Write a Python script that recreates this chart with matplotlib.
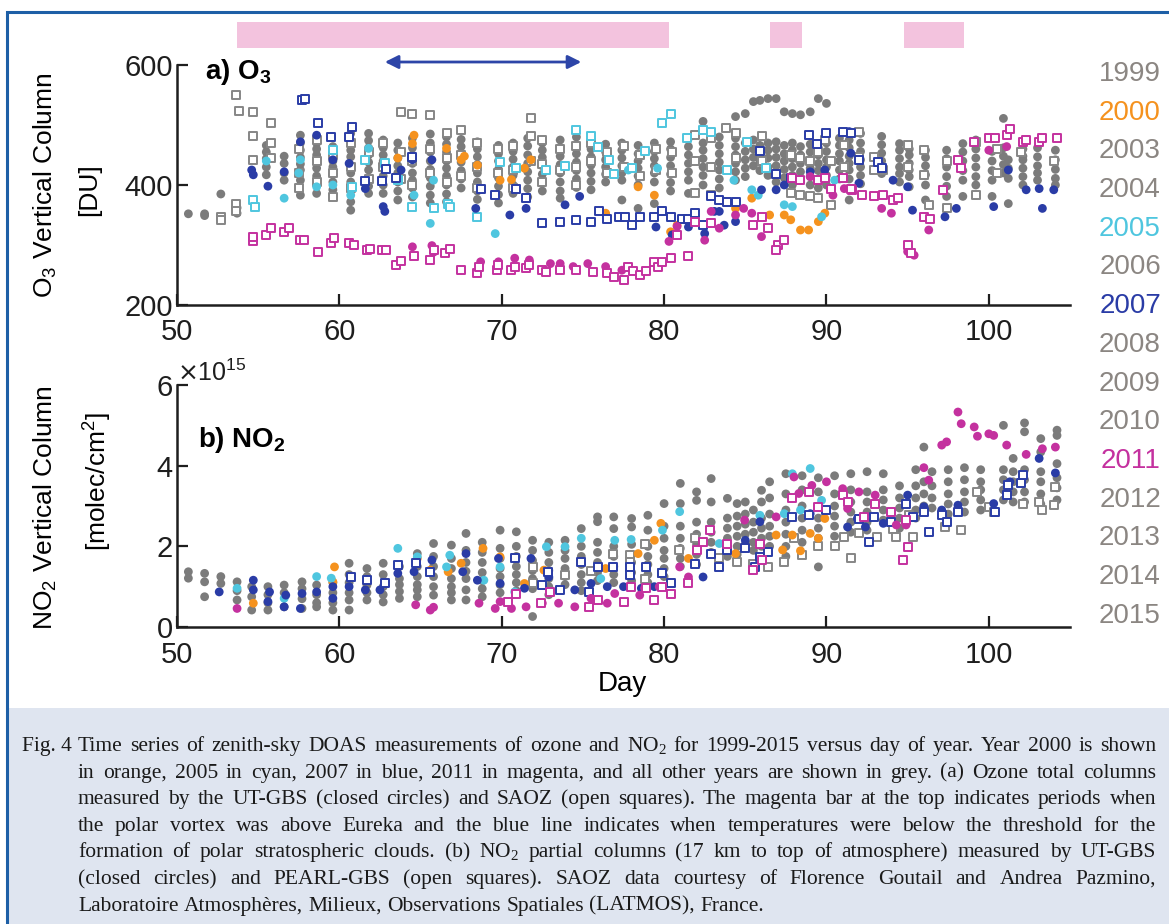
import matplotlib
matplotlib.use('Agg')
import matplotlib.pyplot as plt
from matplotlib.patches import Rectangle
import numpy as np

plt.rcParams['font.family'] = ['Liberation Sans', 'DejaVu Sans']

W, H = 1169, 924

YEARS = ['1999', '2000', '2003', '2004', '2005', '2006', '2007', '2008',
         '2009', '2010', '2011', '2012', '2013', '2014', '2015']

GREY = '#7b7b7b'
GREY_BOX = '#868686'
ORANGE = '#f5921e'
CYAN = '#4fc6df'
BLUE = '#2a3ca6'
MAGENTA = '#c4319f'
LEGEND_GREY = '#8b8682'
HIGHLIGHT = {'2000': ORANGE, '2005': CYAN, '2007': BLUE, '2011': MAGENTA}

# polar vortex above Eureka (day ranges) and PSC temperature window
VORTEX_DAYS = [(53.7, 80.3), (86.5, 88.5), (94.8, 98.5)]
PSC_DAYS = (62.8, 74.9)

# ---- ozone [DU], other years: (day, [values]) ----
O3_GREY_UTGBS = [
    (50.7, [352]), (51.7, [352, 349]), (52.7, [385]), (53.7, [353, 362]),
    (55.5, [466, 455, 444, 430, 417]), (56.6, [448, 436, 420, 408]),
    (57.6, [483, 470, 458, 446, 435, 425, 408, 383]),
    (58.6, [470, 460, 450, 440, 428, 415, 400, 386]),
    (59.6, [464, 452, 440, 430, 418, 405, 392]),
    (60.7, [486, 470, 458, 447, 433, 420, 405, 390, 372, 358]),
    (61.8, [486, 474, 462, 450, 438, 425, 410, 398, 386]),
    (62.7, [475, 462, 450, 440, 428, 415, 400, 386]),
    (63.6, [470, 458, 445, 432, 420, 405, 390, 375]),
    (64.5, [478, 462, 450, 436, 420, 408, 395, 380]),
    (65.6, [485, 470, 455, 440, 426, 412, 398, 383, 370]),
    (66.6, [480, 468, 455, 440, 428, 415, 400, 385, 372]),
    (67.5, [476, 464, 452, 438, 424, 410, 395]),
    (68.5, [472, 460, 447, 434, 420, 405, 390, 376]),
    (69.8, [466, 452, 440, 426, 412, 398, 384, 370]),
    (70.7, [470, 456, 443, 430, 416, 400, 386]),
    (71.6, [478, 465, 450, 436, 422, 408, 394, 380]),
    (72.5, [470, 458, 446, 432, 418, 404, 390]),
    (73.6, [475, 462, 448, 434, 420, 405, 390, 378]),
    (74.6, [480, 466, 452, 438, 424, 410, 396]),
    (75.5, [472, 460, 447, 433, 420, 406, 392]),
    (76.4, [468, 455, 442, 430, 418, 405]),
    (77.4, [470, 458, 445, 432, 420, 408, 375]),
    (78.4, [466, 452, 440, 428, 415, 400, 361]),
    (79.4, [470, 456, 444, 432, 420, 405, 369]),
    (80.4, [472, 460, 446, 432, 418, 404, 390]),
    (81.5, [478, 464, 450, 436, 422, 408, 386]),
    (82.4, [506, 470, 458, 444, 430, 416, 400]),
    (83.4, [480, 466, 452, 438, 425, 410, 395]),
    (84.4, [514, 478, 464, 450, 436, 422, 408]),
    (85.0, [519, 470, 456, 442, 428, 414]),
    (85.5, [539, 475, 460, 446, 432]),
    (85.9, [541, 466, 452, 438, 424]),
    (86.4, [544, 470, 458, 445, 430, 416]),
    (86.9, [544, 472, 460, 446, 432, 418, 405]),
    (87.4, [522, 466, 452, 440, 426, 412]),
    (87.9, [519, 470, 458, 444, 430, 416, 400]),
    (88.4, [517, 464, 450, 436, 422, 408]),
    (89.0, [522, 468, 455, 442, 428, 414, 400]),
    (89.5, [544, 462, 450, 436, 424, 410, 395]),
    (90.0, [536, 470, 456, 442, 430, 416, 400]),
    (90.8, [478, 466, 452, 440, 425, 410]),
    (91.4, [475, 462, 448, 436, 425, 410, 375]),
    (92.1, [486, 470, 456, 442, 430, 416, 402]),
    (93.4, [481, 467, 453, 440, 428, 419]),
    (94.5, [469, 458, 444, 430, 419, 405]),
    (95.1, [460, 450, 436, 425, 414, 397]),
    (96.1, [458, 446, 432, 417, 400, 375]),
    (97.4, [458, 444, 430, 414, 398, 381]),
    (98.4, [469, 455, 440, 424, 408, 381]),
    (99.2, [475, 460, 445, 430, 414, 400, 383]),
    (100.2, [456, 440, 424, 408, 381]),
    (100.9, [511, 462, 448, 434, 420]),
    (101.2, [442, 428, 411, 369]),
    (102.1, [460, 448, 442, 428, 414, 400]),
    (103.0, [462, 447, 432, 420, 408]),
    (104.1, [458, 442, 426, 411, 400]),
]

O3_GREY_SAOZ = [
    (52.7, [347, 342]), (53.65, [550, 368, 357]), (53.8, [524]),
    (54.7, [521, 481, 442]), (55.8, [503, 470, 445]), (57.5, [460, 420, 395]),
    (58.6, [475, 440, 405]), (59.6, [450, 420, 380]), (60.7, [470, 430, 395]),
    (61.8, [455, 410]), (62.7, [470, 430]), (63.8, [522, 455, 410]),
    (64.5, [519, 440, 400]), (65.6, [517, 460, 420]), (66.6, [486, 445, 405]),
    (67.5, [492, 450, 415]), (68.5, [470, 430, 395]), (69.8, [460, 420]),
    (70.7, [465, 425, 395]), (71.8, [511, 481, 440]), (72.5, [475, 435, 405]),
    (73.6, [460, 425]), (74.6, [465, 430, 400]), (75.5, [470, 440]),
    (76.5, [455, 420]), (77.5, [465, 430]), (78.5, [450, 415]),
    (79.5, [460, 425]), (80.5, [455, 420]), (81.9, [483, 440, 386]),
    (82.9, [478, 430, 383]), (83.8, [495]), (84.4, [486, 445]), (86.0, [481, 440]),
    (87.8, [450, 386]), (88.4, [445, 383]), (89.0, [440, 381]),
    (89.5, [455, 378]), (89.9, [475]), (90.3, [440, 367]), (91.1, [467, 430]),
    (92.0, [489, 447]), (92.9, [447, 425]), (93.5, [425]), (95.0, [467, 430]),
    (96.0, [458, 417]), (96.3, [367]), (97.4, [440, 361]), (99.2, [472, 383]),
    (100.5, [460, 420]), (102.0, [455]), (104.0, [440]),
]

# ---- ozone [DU], highlighted years: (day, value) ----
O3_2000_UTGBS = [
    (63.6, 445), (64.5, 469), (64.6, 483), (66.6, 461), (67.5, 442), (67.7, 448),
    (68.5, 433), (69.9, 408), (70.6, 409), (71.4, 428), (71.8, 442), (76.4, 353),
    (78.4, 397), (79.4, 383), (80.4, 322), (80.8, 333), (84.4, 361), (85.4, 378),
    (86.5, 350), (87.4, 350), (87.8, 342), (88.4, 325), (88.9, 325), (89.5, 339),
    (89.9, 353),
]
O3_2005_UTGBS = [
    (55.5, 440), (56.6, 378), (57.5, 420), (57.6, 442), (58.6, 397), (59.6, 400),
    (60.7, 383), (61.8, 461), (64.6, 383), (65.8, 408), (65.6, 336), (69.6, 319),
    (77.8, 425), (79.6, 428), (84.3, 408), (85.4, 392), (85.8, 383), (87.4, 367),
    (87.9, 364), (89.7, 347), (90.5, 408),
]
O3_2005_SAOZ = [
    (54.7, 375), (54.8, 364), (59.6, 458), (60.8, 397), (61.6, 442), (62.8, 436),
    (63.6, 408), (64.5, 364), (65.8, 361), (66.7, 369), (66.8, 364), (68.5, 347),
    (69.9, 439), (70.9, 428), (72.7, 425), (73.9, 431), (74.6, 492), (75.5, 481),
    (75.9, 464), (76.6, 442), (76.9, 419), (79.9, 503), (80.4, 519), (82.4, 492),
    (82.9, 489), (85.1, 472), (81.4, 478), (78.8, 456), (78.0, 428), (83.9, 425),
    (86.3, 428),
]
O3_2007_UTGBS = [
    (54.6, 425), (54.7, 417), (55.6, 398), (56.6, 422), (57.6, 472), (58.6, 483),
    (59.5, 480), (59.6, 442), (60.6, 436), (61.6, 394), (62.7, 364), (62.8, 356),
    (63.8, 425), (64.5, 442), (65.7, 442), (68.4, 361), (70.5, 350), (71.5, 361),
    (73.9, 367), (74.8, 381), (79.5, 330), (80.5, 317), (81.5, 330), (82.5, 319),
    (83.1, 356), (83.4, 356), (83.7, 333), (84.4, 339), (86.0, 392), (86.9, 392),
    (87.4, 400), (89.0, 422), (89.9, 425), (91.4, 489), (91.5, 453), (92.0, 403),
    (93.4, 431), (94.1, 408), (95.0, 397), (95.3, 358), (97.3, 347), (98.0, 361),
    (100.3, 364), (101.2, 425), (102.3, 392), (103.1, 394), (103.3, 361),
    (104.0, 392),
]
O3_2007_SAOZ = [
    (57.7, 541), (57.9, 543), (58.7, 503), (59.5, 480), (60.8, 497), (60.6, 480),
    (61.6, 406), (62.6, 406), (62.9, 426), (63.5, 411), (64.5, 447), (68.7, 394),
    (69.6, 383), (70.9, 394), (71.5, 378), (72.5, 336), (73.6, 339), (74.6, 342),
    (75.5, 339), (76.0, 356), (76.5, 344), (77.2, 347), (77.6, 347), (78.0, 333),
    (78.5, 347), (79.4, 347), (79.9, 356), (80.4, 347), (81.1, 344), (81.5, 344),
    (81.9, 353), (82.4, 333), (82.9, 381), (83.4, 375), (83.9, 372), (84.4, 372),
    (85.9, 456), (86.9, 419), (87.8, 411), (88.9, 483), (89.4, 469), (90.0, 486),
    (91.0, 489), (91.5, 486), (92.0, 442), (93.2, 439), (93.4, 428),
]
O3_2011_UTGBS = [
    (64.5, 297), (65.7, 299), (65.8, 288), (68.7, 272), (69.8, 272), (70.8, 278),
    (71.7, 275), (73.0, 269), (73.6, 269), (74.4, 264), (75.3, 269), (76.4, 264),
    (77.4, 258), (80.3, 306), (80.8, 331), (82.5, 308), (82.9, 356), (83.4, 328),
    (84.4, 350), (84.9, 361), (85.4, 353), (86.0, 314), (89.0, 414), (90.4, 383),
    (91.1, 394), (93.4, 361), (94.0, 353), (95.0, 289), (95.4, 283), (96.3, 325),
    (100.0, 458), (101.1, 464),
]
O3_2011_SAOZ = [
    (54.7, 306), (54.7, 314), (55.5, 317), (55.8, 328), (56.6, 322), (56.9, 328),
    (57.6, 308), (57.8, 308), (58.7, 289), (59.5, 303), (59.7, 311), (60.6, 303),
    (60.9, 300), (61.7, 292), (61.9, 294), (62.6, 292), (62.9, 292), (63.5, 267),
    (63.8, 273), (64.6, 281), (65.6, 275), (65.8, 292), (66.5, 286), (66.8, 294),
    (67.5, 258), (68.5, 253), (68.6, 264), (69.7, 258), (69.8, 267), (70.6, 258),
    (70.8, 264), (71.5, 261), (71.7, 267), (72.5, 258), (72.7, 255), (73.6, 258),
    (74.6, 258), (75.6, 255), (76.5, 253), (76.9, 247), (77.5, 242), (77.8, 264),
    (78.1, 256), (78.5, 250), (78.9, 256), (79.4, 272), (79.6, 264), (79.9, 272),
    (80.4, 278), (81.5, 281), (80.8, 317), (81.9, 339), (82.9, 336), (85.5, 333),
    (86.0, 347), (86.4, 328), (87.0, 300), (87.4, 308), (86.9, 292), (87.9, 411),
    (88.4, 408), (89.5, 408), (89.9, 411), (90.3, 394), (91.0, 411), (91.6, 392),
    (91.5, 394), (92.2, 383), (92.9, 381), (93.5, 383), (94.1, 375), (94.4, 378),
    (95.0, 300), (95.2, 286), (96.0, 347), (96.4, 344), (97.2, 392), (98.1, 442),
    (98.3, 428), (99.1, 472), (100.0, 478), (100.4, 478), (101.1, 483),
    (101.3, 493), (102.1, 472), (102.3, 475), (103.1, 472), (103.3, 478),
    (104.2, 478),
]

# ---- NO2 [1e15 molec/cm2], other years: (day, [values]) ----
NO2_SCALE = 1e15
NO2_GREY_UTGBS = [
    (50.7, [1.37, 1.21]), (51.7, [1.33, 1.12, 0.75]), (52.7, [1.25, 1.08]),
    (53.7, [1.12, 0.9, 0.67]), (54.6, [1.0, 0.75, 0.42]),
    (55.6, [1.0, 0.8, 0.6, 0.42]), (56.6, [1.04, 0.85, 0.5]),
    (57.7, [1.12, 0.95, 0.7, 0.46]), (58.6, [1.04, 0.8, 0.6, 0.5]),
    (59.6, [1.1, 0.85, 0.6, 0.42]), (60.6, [1.58, 1.3, 1.1, 0.85, 0.67, 0.42]),
    (61.7, [1.45, 1.25, 1.04, 0.85, 0.67]), (62.7, [1.58, 1.3, 1.0, 0.8, 0.62]),
    (63.7, [1.5, 1.2, 1.05, 0.88, 0.71]),
    (64.8, [1.82, 1.5, 1.25, 1.05, 0.92, 0.75]),
    (65.8, [2.07, 1.75, 1.5, 1.25, 1.0, 0.79]),
    (66.9, [2.03, 1.7, 1.45, 1.2, 1.0, 0.85, 0.67]),
    (67.8, [2.32, 1.9, 1.6, 1.38, 1.2, 0.92, 0.67]),
    (68.8, [2.1, 1.85, 1.6, 1.35, 1.15, 0.95, 0.75]),
    (69.9, [2.40, 1.95, 1.7, 1.45, 1.25, 1.05, 0.85]),
    (70.9, [2.36, 2.0, 1.75, 1.5, 1.3, 1.1, 0.9]),
    (71.9, [2.15, 1.9, 1.65, 1.4, 1.2, 0.95, 0.26]),
    (72.9, [2.1, 1.85, 1.6, 1.4, 1.2, 1.0, 0.8]),
    (73.9, [2.15, 1.9, 1.7, 1.45, 1.25, 1.05]),
    (74.9, [2.44, 2.0, 1.75, 1.55, 1.3, 1.1, 0.9]),
    (75.9, [2.73, 2.61, 2.1, 1.85, 1.6, 1.35, 1.15]),
    (76.9, [2.73, 2.44, 2.0, 1.75, 1.5, 1.3, 1.1]),
    (78.0, [2.69, 2.48, 2.05, 1.8, 1.6, 1.35, 1.15]),
    (79.0, [2.77, 2.40, 2.0, 1.75, 1.55, 1.3, 1.1]),
    (80.0, [3.06, 2.5, 2.2, 1.9, 1.7, 1.45, 1.25]),
    (81.0, [3.56, 3.06, 2.5, 2.2, 1.95, 1.7, 1.5]),
    (82.0, [3.35, 3.14, 2.6, 2.3, 2.05, 1.8, 1.55]),
    (82.9, [3.68, 3.10, 2.6, 2.35, 2.1, 1.85]),
    (83.9, [3.19, 2.7, 2.45, 2.2, 1.95, 1.75]),
    (84.5, [3.06, 2.75, 2.5, 2.25, 2.0, 1.8]),
    (85.0, [3.10, 2.8, 2.55, 2.3, 2.05]),
    (85.5, [2.90, 2.6, 2.35, 2.1, 1.9]),
    (86.0, [3.39, 3.10, 2.7, 2.45, 2.2, 2.0]),
    (86.5, [3.60, 3.2, 2.8, 2.5, 2.25, 2.0]),
    (87.5, [3.8, 3.3, 2.9, 2.6, 2.3, 2.0, 1.75]),
    (88.5, [3.75, 3.4, 3.0, 2.7, 2.4, 2.1]),
    (89.5, [3.7, 3.35, 3.0, 2.7, 2.45, 2.2, 1.49]),
    (90.5, [3.75, 3.3, 3.0, 2.75, 2.5, 2.25]),
    (91.5, [3.8, 3.4, 3.1, 2.85, 2.6, 2.35]),
    (92.5, [3.85, 3.35, 3.1, 2.85, 2.6, 2.4]),
    (93.5, [3.8, 3.4, 3.15, 2.9, 2.65]),
    (94.5, [3.5, 3.2, 2.95, 2.7, 2.45]),
    (95.5, [3.9, 3.5, 3.2, 2.9, 2.7]),
    (96.0, [4.46, 3.6, 3.3, 3.0]),
    (96.5, [3.85, 3.5, 3.2, 2.95]),
    (97.5, [3.9, 3.6, 3.3, 3.05, 2.8]),
    (98.5, [3.95, 3.65, 3.35, 3.1, 2.85]),
    (99.5, [3.9, 3.6, 3.4, 3.15, 2.9]),
    (100.9, [5.0, 3.9, 3.65, 3.4, 3.15]),
    (101.5, [4.18, 3.85, 3.6, 3.35, 3.1]),
    (102.2, [5.06, 4.84, 3.9, 3.65, 3.35, 3.1]),
    (103.2, [4.67, 4.34, 3.85, 3.6, 3.3, 3.05]),
    (104.2, [4.88, 4.75, 4.05, 3.7, 3.45, 3.15]),
]
NO2_GREY_PEARL = [
    (71.9, [1.5, 1.1]), (73.9, [1.3]), (75.5, [1.4]), (76.85, [1.82]),
    (77.9, [1.78, 1.6]), (78.8, [2.07, 1.2]), (79.9, [1.35]), (80.9, [1.9]),
    (81.9, [2.2]), (83.4, [1.7]), (84.5, [1.6]), (85.5, [1.55]), (86.4, [1.5]),
    (87.4, [1.62]), (88.0, [2.2]), (88.5, [1.78]), (89.5, [2.0]), (90.5, [2.0]),
    (91.1, [2.24]), (91.5, [1.70]), (92.0, [2.32]), (93.1, [2.24]),
    (94.1, [2.44]), (94.3, [2.24]), (95.1, [2.77]), (95.3, [2.24]),
    (97.3, [2.48]), (98.3, [2.4]), (99.3, [3.35]), (100.0, [2.98]),
    (100.3, [2.86]), (102.1, [3.06]), (103.1, [3.1]), (103.3, [2.9]),
    (104.0, [3.02]), (104.1, [3.47]),
]

# ---- NO2 [1e15 molec/cm2], highlighted years: (day, value) ----
NO2_2000_UTGBS = [
    (54.7, 0.59), (59.7, 1.49), (59.6, 1.12), (64.8, 1.70), (65.6, 1.41),
    (66.7, 1.37), (67.5, 1.58), (68.85, 1.95), (69.9, 1.74), (71.4, 1.08),
    (72.6, 1.41), (76.4, 1.45), (78.4, 1.82), (79.4, 2.15), (79.8, 2.57),
    (81.5, 1.70), (84.4, 1.82), (86.9, 2.28), (87.3, 1.91), (87.9, 2.28),
    (88.4, 1.89), (89.0, 2.32), (89.5, 2.20), (89.9, 2.69),
]
NO2_2005_UTGBS = [
    (53.7, 0.96), (56.6, 0.71), (58.6, 1.25), (59.5, 1.21), (63.6, 1.95),
    (64.8, 1.74), (66.6, 1.49), (66.8, 1.78), (68.9, 1.16), (69.9, 1.49),
    (70.8, 0.87), (72.75, 1.99), (73.9, 1.99), (74.9, 2.20), (76.1, 1.2),
    (76.96, 2.15), (77.97, 2.17), (79.9, 2.40), (80.96, 2.86), (83.4, 2.07),
    (85.9, 2.77), (87.4, 2.81), (87.9, 3.8), (88.4, 2.9), (89.0, 3.93),
    (89.7, 3.14),
]
NO2_2007_UTGBS = [
    (52.6, 0.87), (54.7, 1.16), (54.7, 0.92), (55.7, 0.87), (55.6, 0.63),
    (56.6, 0.5), (56.7, 0.79), (57.7, 0.83), (57.6, 0.46), (58.6, 0.87),
    (59.6, 1.0), (59.6, 0.71), (60.6, 1.0), (61.6, 0.92), (62.5, 0.92),
    (63.6, 1.33), (64.6, 1.37), (65.7, 1.66), (67.6, 1.37), (67.8, 1.82),
    (68.5, 1.16), (69.8, 1.70), (69.9, 1.08), (71.4, 0.96), (71.8, 1.70),
    (72.9, 1.24), (74.5, 0.92), (75.5, 1.08), (76.5, 1.0), (77.5, 1.0),
    (78.6, 0.96), (79.4, 1.0), (82.4, 1.24), (85.0, 2.15), (85.9, 2.61),
    (89.0, 2.81), (91.3, 2.48), (91.9, 2.69), (92.4, 2.48), (93.5, 2.57),
    (95.0, 3.27), (96.0, 2.98), (97.1, 2.90), (98.1, 3.02), (100.3, 3.06),
    (101.3, 3.60), (103.1, 4.18), (104.1, 3.82),
]
NO2_2007_PEARL = [
    (60.7, 1.25), (61.7, 1.16), (62.8, 1.08), (63.6, 1.53), (64.7, 1.58),
    (65.6, 1.37), (70.8, 1.70), (72.5, 1.04), (72.85, 1.37), (73.6, 0.92),
    (74.9, 1.62), (75.4, 0.87), (75.9, 1.49), (76.85, 1.49), (77.9, 1.49),
    (77.9, 1.29), (78.9, 1.49), (79.9, 1.33), (80.4, 1.08), (81.9, 1.57),
    (82.9, 1.82), (83.4, 1.49), (83.9, 1.90), (84.96, 1.95), (85.6, 1.49),
    (85.9, 1.74), (86.4, 1.86), (87.9, 2.73), (88.95, 2.77), (90.0, 2.90),
    (92.0, 2.69), (92.6, 2.11), (92.95, 2.73), (94.0, 2.61), (94.9, 3.06),
    (95.3, 2.73), (96.0, 2.86), (96.3, 2.36), (97.1, 2.77), (97.4, 2.61),
    (98.1, 2.86), (100.4, 2.86), (101.1, 3.27), (101.2, 3.51), (102.0, 3.56),
    (102.1, 3.76),
]
NO2_2011_UTGBS = [
    (53.7, 0.46), (64.7, 0.55), (65.6, 0.42), (65.8, 0.49), (68.6, 0.59),
    (69.6, 0.46), (69.9, 0.63), (70.6, 0.46), (71.5, 0.50), (72.5, 0.59),
    (73.5, 0.59), (74.5, 0.50), (75.5, 0.71), (76.5, 0.59), (76.96, 0.83),
    (78.5, 0.79), (78.8, 0.96), (79.7, 1.0), (80.96, 1.49), (81.5, 1.24),
    (84.96, 2.65), (86.9, 2.73), (88.0, 3.72), (88.3, 3.31), (89.1, 3.51),
    (90.0, 3.60), (91.0, 3.43), (91.3, 2.94), (92.0, 3.35), (93.0, 3.27),
    (94.3, 2.53), (94.9, 2.53), (96.0, 3.95), (96.3, 3.64), (97.1, 4.51),
    (97.4, 4.59), (98.1, 5.33), (98.3, 5.04), (99.1, 4.96), (99.3, 4.73),
    (100.0, 4.79), (100.3, 4.75), (101.1, 4.51), (102.3, 4.28), (103.3, 4.42),
    (104.1, 4.46),
]
NO2_2011_PEARL = [
    (70.4, 0.63), (70.9, 0.83), (72.4, 0.59), (72.95, 0.87), (75.4, 0.50),
    (75.9, 0.66), (77.5, 0.63), (77.97, 1.0), (78.9, 0.96), (79.4, 0.66),
    (79.9, 1.0), (80.4, 0.83), (81.5, 1.08), (82.0, 1.90), (82.4, 2.11),
    (82.8, 2.40), (83.9, 2.07), (85.5, 1.41), (85.9, 2.07), (86.0, 1.66),
    (87.9, 3.19), (88.95, 3.35), (89.5, 2.98), (91.0, 3.27), (91.3, 3.1),
    (92.3, 2.73), (93.0, 3.06), (94.0, 2.86), (94.7, 1.66), (94.9, 2.65),
    (95.0, 1.99),
]

CAPTION_TAG = 'Fig. 4'
CAPTION = [
    'Time series of zenith-sky DOAS measurements of ozone and NO$_\\mathdefault{2}$ for 1999-2015 versus day of year. Year 2000 is shown',
    'in orange, 2005 in cyan, 2007 in blue, 2011 in magenta, and all other years are shown in grey. (a) Ozone total columns',
    'measured by the UT-GBS (closed circles) and SAOZ (open squares). The magenta bar at the top indicates periods when',
    'the polar vortex was above Eureka and the blue line indicates when temperatures were below the threshold for the',
    'formation of polar stratospheric clouds. (b) NO$_\\mathdefault{2}$ partial columns (17 km to top of atmosphere) measured by UT-GBS',
    '(closed circles) and PEARL-GBS (open squares). SAOZ data courtesy of Florence Goutail and Andrea Pazmino,',
    'Laboratoire Atmosphères, Milieux, Observations Spatiales (LATMOS), France.',
]


def grouped(groups):
    days = [d for d, vals in groups for _ in vals]
    vals = [v for _, vs in groups for v in vs]
    return np.array(days), np.array(vals, dtype=float)


def paired(pairs):
    a = np.array(pairs, dtype=float)
    return a[:, 0], a[:, 1]


def dots(ax, x, y, color):
    ax.scatter(x, y, s=40, color=color, edgecolors='none', zorder=3)


def boxes(ax, x, y, color):
    ax.scatter(x, y, s=28, marker='s', facecolors='white', edgecolors=color,
               linewidths=1.4, zorder=3)


def style_axes(ax):
    for side in ('top', 'right'):
        ax.spines[side].set_visible(False)
    for side in ('left', 'bottom'):
        ax.spines[side].set_linewidth(1.8)
        ax.spines[side].set_color('#1e1e1e')
    ax.set_xlim(50, 105)
    ax.set_xticks([50, 60, 70, 80, 90, 100])
    ax.tick_params(direction='in', length=8, width=1.6, labelsize=21,
                   colors='#1e1e1e')
    ax.tick_params(axis='x', pad=9)
    ax.tick_params(axis='y', pad=3)
    ax.set_facecolor('none')


def fx(px):
    return px / W


def fy(py):
    return 1 - py / H


fig = plt.figure(figsize=(W / 100, H / 100), dpi=100)
fig.patch.set_facecolor('white')

# page frame and caption panel
fig.patches.append(Rectangle((fx(8), 0), fx(1175) - fx(8), fy(708),
                             transform=fig.transFigure, facecolor='#dfe5f0',
                             edgecolor='none', zorder=0))
fig.patches.append(Rectangle((fx(7), fy(940)), 1.2, fy(12) - fy(940),
                             transform=fig.transFigure, facecolor='none',
                             edgecolor='#1d5fa6', linewidth=2.2, zorder=1))

ax1 = fig.add_axes([fx(177), fy(305), fx(1070) - fx(177), fy(65) - fy(305)])
ax2 = fig.add_axes([fx(177), fy(627), fx(1070) - fx(177), fy(385) - fy(627)])

# ---- (a) ozone ----
style_axes(ax1)
ax1.set_ylim(200, 600)
ax1.set_yticks([200, 400, 600])
dots(ax1, *grouped(O3_GREY_UTGBS), GREY)
boxes(ax1, *grouped(O3_GREY_SAOZ), GREY_BOX)
dots(ax1, *paired(O3_2000_UTGBS), ORANGE)
dots(ax1, *paired(O3_2005_UTGBS), CYAN)
boxes(ax1, *paired(O3_2005_SAOZ), CYAN)
dots(ax1, *paired(O3_2007_UTGBS), BLUE)
boxes(ax1, *paired(O3_2007_SAOZ), BLUE)
dots(ax1, *paired(O3_2011_UTGBS), MAGENTA)
boxes(ax1, *paired(O3_2011_SAOZ), MAGENTA)

for start, end in VORTEX_DAYS:
    ax1.add_patch(Rectangle((start, 628), end - start, 44, facecolor='#f3c3de',
                            edgecolor='none', clip_on=False, zorder=1))
ax1.annotate('', xy=(PSC_DAYS[1], 605), xytext=(PSC_DAYS[0], 605),
             arrowprops=dict(arrowstyle='<|-|>', color='#2d45a8', lw=2,
                             mutation_scale=20, shrinkA=0, shrinkB=0),
             annotation_clip=False)
ax1.text(0.031, 1.035, 'a) O$_\\mathdefault{3}$', transform=ax1.transAxes,
         fontsize=20, fontweight='bold', va='top', ha='left')

# ---- (b) NO2 ----
style_axes(ax2)
ax2.set_ylim(0, 6 * NO2_SCALE)
ax2.set_yticks(np.array([0, 2, 4, 6]) * NO2_SCALE)
ax2.ticklabel_format(axis='y', style='sci', scilimits=(15, 15), useMathText=True)
ax2.yaxis.get_offset_text().set_fontsize(18)
ax2.tick_params(axis='x', pad=10)
gd, gv = grouped(NO2_GREY_UTGBS)
dots(ax2, gd, gv * NO2_SCALE, GREY)
gd, gv = grouped(NO2_GREY_PEARL)
boxes(ax2, gd, gv * NO2_SCALE, GREY_BOX)
for series, color, draw in [(NO2_2000_UTGBS, ORANGE, dots),
                            (NO2_2005_UTGBS, CYAN, dots),
                            (NO2_2007_UTGBS, BLUE, dots),
                            (NO2_2007_PEARL, BLUE, boxes),
                            (NO2_2011_UTGBS, MAGENTA, dots),
                            (NO2_2011_PEARL, MAGENTA, boxes)]:
    d, v = paired(series)
    draw(ax2, d, v * NO2_SCALE, color)
ax2.text(0.0235, 0.835, 'b) NO$_\\mathdefault{2}$', transform=ax2.transAxes,
         fontsize=20, fontweight='bold', va='top', ha='left')

# axis titles
fig.text(fx(45), fy(185), 'O$_\\mathdefault{3}$ Vertical Column', rotation=90,
         ha='center', va='center', fontsize=19)
fig.text(fx(89), fy(190), '[DU]', rotation=90, ha='center', va='center',
         fontsize=19)
fig.text(fx(45), fy(508), 'NO$_\\mathdefault{2}$ Vertical Column', rotation=90,
         ha='center', va='center', fontsize=19)
fig.text(fx(97), fy(482), '[molec/cm$^\\mathdefault{2}$]', rotation=90,
         ha='center', va='center', fontsize=19)
fig.text(fx(622), fy(684), 'Day', ha='center', va='center', fontsize=20)

# year key
for i, year in enumerate(YEARS):
    fig.text(fx(1161), fy(74 + i * 38.7), year, ha='right', va='center',
             fontsize=20, color=HIGHLIGHT.get(year, LEGEND_GREY))

# caption, set as a justified block
serif = ['Liberation Serif', 'DejaVu Serif']
renderer = fig.canvas.get_renderer()
left, right = 78, 1156
size = 15.5
probe = [fig.text(0, 0, line, fontsize=size, family=serif) for line in CAPTION]
widest = max(t.get_window_extent(renderer).width for t in probe)
for t in probe:
    t.remove()
if widest > (right - left):
    size *= (right - left) / widest * 0.985

fig.text(fx(22), fy(751), CAPTION_TAG, fontsize=size, family=serif,
         va='baseline', color='#1a1a1a')
for n, line in enumerate(CAPTION):
    base = 751 + n * 26.6
    words = [fig.text(0, fy(base), w, fontsize=size, family=serif,
                      va='baseline', color='#1a1a1a') for w in line.split(' ')]
    widths = [t.get_window_extent(renderer).width for t in words]
    if n == len(CAPTION) - 1:
        gap = size * 100 / 72 * 0.25
    else:
        gap = (right - left - sum(widths)) / (len(words) - 1)
    x = left
    for t, wd in zip(words, widths):
        t.set_x(fx(x))
        x += wd + gap

fig.savefig('out.png', dpi=100, facecolor='white')
